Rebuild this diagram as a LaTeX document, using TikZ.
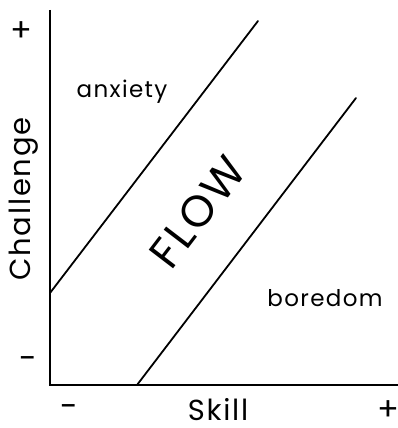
\documentclass[tikz,border=0pt]{standalone}
\usepackage{fontspec}
\setmainfont{Poppins}[LetterSpace=6]
\usetikzlibrary{positioning}

\begin{document}
\begin{tikzpicture}[
  x=1pt,y=1pt,
  axisline/.style={line width=2.2pt,draw=black},
  bandline/.style={line width=1.8pt,draw=black,line cap=round},
  zone/.style={font=\fontsize{23}{26}\selectfont,inner sep=0pt},
  axlabel/.style={font=\fontsize{29}{32}\selectfont,inner sep=0pt},
  tick/.style={font=\fontsize{32}{36}\selectfont,inner sep=0pt}
]
\useasboundingbox (0,0) rectangle (398,428);
% axes
\coordinate (origin) at (50,43);
\coordinate (ytop) at (50,418);
\coordinate (xend) at (398,43);
\draw[axisline] (ytop) -- (origin) -- (xend);
% flow channel
\coordinate (upA) at (50,135);
\coordinate (upB) at (258,407);
\coordinate (lowA) at (137,43);
\coordinate (lowB) at (356,330);
\draw[bandline] (upA) -- (upB);
\draw[bandline] (lowA) -- (lowB);
% labels
\node[zone] (anxiety) at (122,336) {anxiety};
\node[zone] (boredom) at (325,130) {boredom};
\node[font=\fontsize{44}{48}\selectfont,inner sep=0pt,rotate=52.6] (flow) at (198,216) {FLOW};
\node[axlabel,rotate=90] (challenge) at (24,229) {Challenge};
\node[axlabel,anchor=base] (skill) at (218,7) {Skill};
\node[tick] (yplus) at (21,396) {+};
\node[tick] (yminus) at (28,65) {-};
\node[tick] (xminus) at (69,17) {-};
\node[tick] (xplus) at (388,17) {+};
\end{tikzpicture}
\end{document}
